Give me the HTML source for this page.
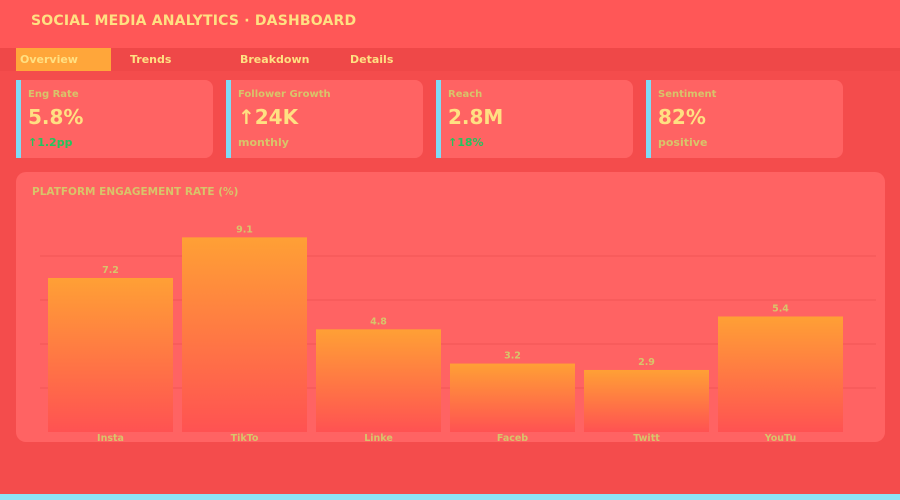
<!DOCTYPE html>
<html><head><meta charset="utf-8"><style>
*{margin:0;padding:0;box-sizing:border-box}
body{width:900px;height:500px;background:#f44c4c;font-family:"DejaVu Sans","Liberation Sans",sans-serif;position:relative;overflow:hidden}
.hdr{position:absolute;left:0;top:0;width:900px;height:48px;background:#ff5757}
.hdr span{position:absolute;left:31px;top:13px;font-size:14px;font-weight:bold;color:#ffe082;letter-spacing:0.2px}
.nav{position:absolute;left:0;top:48px;width:900px;height:23px;background:#ef4848}
.tab{position:absolute;top:1px;height:22px;line-height:22px;font-size:11px;font-weight:bold;color:#ffe082}
.card{position:absolute;top:80px;width:197px;height:78px;background:#ff6363;border-radius:0 8px 8px 0;border-left:5px solid #7fdcf5}
.card .l{position:absolute;left:7px;top:9px;font-size:10px;font-weight:bold;color:#d8c46a}
.card .v{position:absolute;left:7px;top:25px;font-size:20px;font-weight:bold;color:#ffe082}
.card .s{position:absolute;left:7px;top:56px;font-size:11px;font-weight:bold;color:#d8c46a}
.card .s.g{color:#22c55e}
.panel{position:absolute;left:16px;top:172px;width:869px;height:270px;background:#ff6363;border-radius:10px}
.bottom{position:absolute;left:0;top:494px;width:900px;height:6px;background:#8ee3f5}
</style></head><body>
<div class="hdr"><span>SOCIAL MEDIA ANALYTICS · DASHBOARD</span></div>
<div class="nav">
<div class="tab" style="left:16px;width:95px;top:0;height:23px;line-height:24px;background:#ffa63a;padding-left:4px">Overview</div>
<div class="tab" style="left:130px">Trends</div>
<div class="tab" style="left:240px">Breakdown</div>
<div class="tab" style="left:350px">Details</div>
</div>
<div class="card" style="left:16px"><div class="l">Eng Rate</div><div class="v">5.8%</div><div class="s g">↑1.2pp</div></div>
<div class="card" style="left:226px"><div class="l">Follower Growth</div><div class="v">↑24K</div><div class="s">monthly</div></div>
<div class="card" style="left:436px"><div class="l">Reach</div><div class="v">2.8M</div><div class="s g">↑18%</div></div>
<div class="card" style="left:646px"><div class="l">Sentiment</div><div class="v">82%</div><div class="s">positive</div></div>
<div class="panel"></div>
<svg id="chart" width="900" height="500" style="position:absolute;left:0;top:0">
<defs><linearGradient id="bg" x1="0" y1="0" x2="0" y2="1"><stop offset="0" stop-color="#ffa035"/><stop offset="1" stop-color="#ff5252"/></linearGradient></defs>
<text x="32" y="195" font-size="10.5" font-weight="bold" fill="#d8c46a" font-family="DejaVu Sans,sans-serif">PLATFORM ENGAGEMENT RATE (%)</text>
</svg>
<div class="bottom"></div>
<script>
const categories=["Insta","TikTo","Linke","Faceb","Twitt","YouTu"];
const values=[7.2,9.1,4.8,3.2,2.9,5.4];
const gridValues=[2.057,4.114,6.171,8.228];
const svg=document.getElementById('chart');
const NS='http://www.w3.org/2000/svg';
const y0=432,pxPerUnit=21.39,x0=48,step=134,bw=125;
const yS=v=>y0-v*pxPerUnit;
const xS=i=>x0+i*step;
gridValues.forEach(g=>{
 const l=document.createElementNS(NS,'line');
 l.setAttribute('x1',40);l.setAttribute('x2',876);l.setAttribute('y1',yS(g));l.setAttribute('y2',yS(g));
 l.setAttribute('stroke','#f25555');l.setAttribute('stroke-width','1');
 
 
 svg.appendChild(l);
});
values.forEach((v,i)=>{
 const r=document.createElementNS(NS,'rect');
 r.setAttribute('x',xS(i));r.setAttribute('y',yS(v));r.setAttribute('width',bw);r.setAttribute('height',y0-yS(v));
 r.setAttribute('fill','url(#bg)');
 
 
 svg.appendChild(r);
 const t=document.createElementNS(NS,'text');
 t.setAttribute('x',xS(i)+bw/2);t.setAttribute('y',yS(v)-5);t.setAttribute('text-anchor','middle');
 t.setAttribute('font-size','9.5');t.setAttribute('font-weight','bold');t.setAttribute('fill','#d8c46a');t.setAttribute('font-family','DejaVu Sans,sans-serif');
 t.textContent=v.toFixed(1);
 
 
 svg.appendChild(t);
 const c=document.createElementNS(NS,'text');
 c.setAttribute('x',xS(i)+bw/2);c.setAttribute('y',441);c.setAttribute('text-anchor','middle');
 c.setAttribute('font-size','9.5');c.setAttribute('font-weight','bold');c.setAttribute('fill','#d8c46a');c.setAttribute('font-family','DejaVu Sans,sans-serif');
 c.textContent=categories[i];
 
 
 svg.appendChild(c);
});
</script>
</body></html>
